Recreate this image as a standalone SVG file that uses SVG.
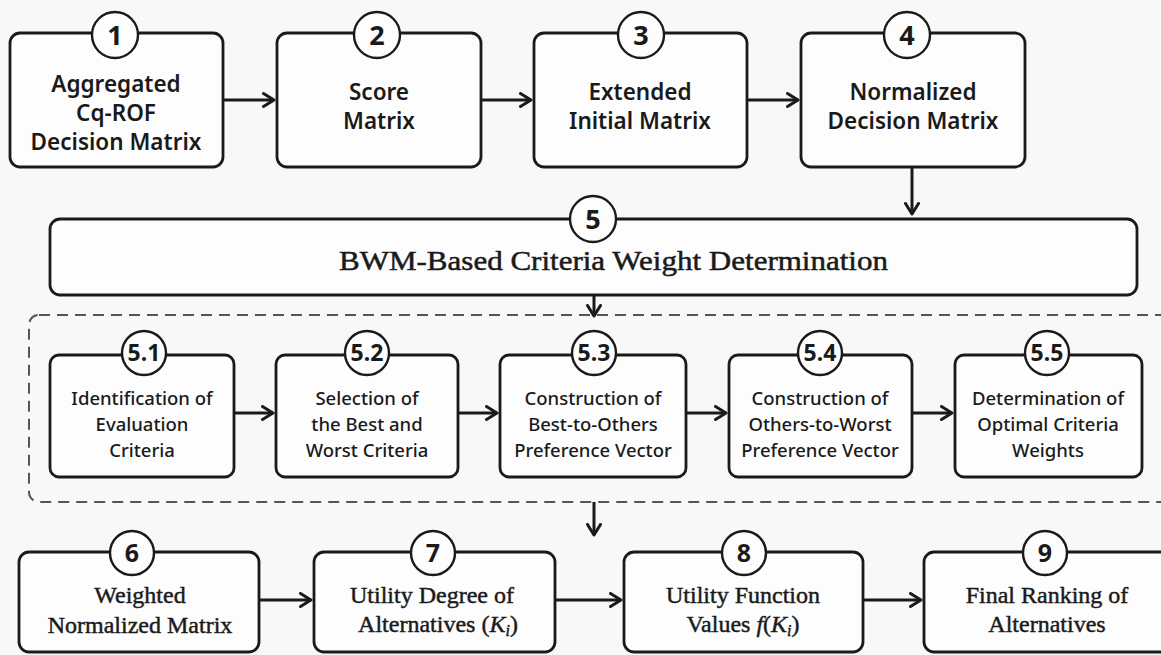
<svg xmlns="http://www.w3.org/2000/svg" width="1161" height="655" viewBox="0 0 1161 655">
<defs>
<marker id="arr" markerUnits="userSpaceOnUse" viewBox="0 0 14 16" markerWidth="14" markerHeight="16" refX="12.5" refY="8" orient="auto">
<path d="M2,1.5 L12.5,8 L2,14.5" fill="none" stroke="#1a1a1a" stroke-width="3" stroke-linecap="round" stroke-linejoin="round"/>
</marker>
<style>
.box{fill:#fdfdfd;stroke:#1a1a1a;stroke-width:2.8}
.circ{fill:#fdfdfd;stroke:#1a1a1a;stroke-width:2.4}
.num{font-family:"Noto Sans",sans-serif;font-weight:700;fill:#1a1a1a;text-anchor:middle}
.t1{font-family:"Noto Sans",sans-serif;font-weight:600;font-size:22.5px;fill:#1a1a1a;text-anchor:middle}
.t2{font-family:"Noto Sans",sans-serif;font-weight:500;font-size:18.5px;fill:#1a1a1a;text-anchor:middle}
.t3{font-family:"Liberation Serif",serif;font-size:24px;fill:#1a1a1a;stroke:#1a1a1a;stroke-width:0.45;text-anchor:middle}
.conn path{fill:none;stroke:#1a1a1a;stroke-width:3;marker-end:url(#arr)}
</style>
</defs>
<rect width="1161" height="655" fill="#f8f8f7"/>

<g id="dashed-group">
<rect x="29" y="315" width="1160" height="187" rx="10" fill="none" stroke="#555" stroke-width="2" stroke-dasharray="11 7"/>
</g>

<g id="node1">
<rect class="box" x="10" y="33" width="213" height="134" rx="10"/>
<circle class="circ" cx="115" cy="35" r="23"/>
<text class="num" x="115" y="44.5" font-size="27">1</text>
<text class="t1" x="116" y="92">Aggregated</text>
<text class="t1" x="116" y="121">Cq-ROF</text>
<text class="t1" x="116" y="150">Decision Matrix</text>
</g>
<g id="node2">
<rect class="box" x="277" y="33" width="204" height="134" rx="10"/>
<circle class="circ" cx="377" cy="35" r="23"/>
<text class="num" x="377" y="44.5" font-size="27">2</text>
<text class="t1" x="379" y="100">Score</text>
<text class="t1" x="379" y="129">Matrix</text>
</g>
<g id="node3">
<rect class="box" x="534" y="33" width="213" height="134" rx="10"/>
<circle class="circ" cx="641" cy="35" r="23"/>
<text class="num" x="641" y="44.5" font-size="27">3</text>
<text class="t1" x="640" y="100">Extended</text>
<text class="t1" x="640" y="129">Initial Matrix</text>
</g>
<g id="node4">
<rect class="box" x="801" y="33" width="224" height="134" rx="10"/>
<circle class="circ" cx="907" cy="35" r="23"/>
<text class="num" x="907" y="44.5" font-size="27">4</text>
<text class="t1" x="913" y="100">Normalized</text>
<text class="t1" x="913" y="129">Decision Matrix</text>
</g>

<g id="node5">
<rect class="box" x="50" y="219" width="1087" height="76" rx="10"/>
<circle class="circ" cx="593" cy="219" r="23"/>
<text class="num" x="593" y="228.5" font-size="27">5</text>
<text x="339" y="270" font-family="Liberation Serif, serif" font-size="28" fill="#1a1a1a" stroke="#1a1a1a" stroke-width="0.5" textLength="549" lengthAdjust="spacingAndGlyphs">BWM-Based Criteria Weight Determination</text>
</g>

<g id="node5-1">
<rect class="box" x="50" y="355" width="184" height="122" rx="9"/>
<circle class="circ" cx="144" cy="353" r="22"/>
<text class="num" x="144" y="361" font-size="23">5.1</text>
<text class="t2" x="142" y="405">Identification of</text>
<text class="t2" x="142" y="431">Evaluation</text>
<text class="t2" x="142" y="457">Criteria</text>
</g>
<g id="node5-2">
<rect class="box" x="276" y="355" width="182" height="122" rx="9"/>
<circle class="circ" cx="367" cy="353" r="22"/>
<text class="num" x="367" y="361" font-size="23">5.2</text>
<text class="t2" x="367" y="405">Selection of</text>
<text class="t2" x="367" y="431">the Best and</text>
<text class="t2" x="367" y="457">Worst Criteria</text>
</g>
<g id="node5-3">
<rect class="box" x="500" y="355" width="186" height="122" rx="9"/>
<circle class="circ" cx="594" cy="353" r="22"/>
<text class="num" x="594" y="361" font-size="23">5.3</text>
<text class="t2" x="593" y="405">Construction of</text>
<text class="t2" x="593" y="431">Best-to-Others</text>
<text class="t2" x="593" y="457">Preference Vector</text>
</g>
<g id="node5-4">
<rect class="box" x="729" y="355" width="183" height="122" rx="9"/>
<circle class="circ" cx="820" cy="353" r="22"/>
<text class="num" x="820" y="361" font-size="23">5.4</text>
<text class="t2" x="820" y="405">Construction of</text>
<text class="t2" x="820" y="431">Others-to-Worst</text>
<text class="t2" x="820" y="457">Preference Vector</text>
</g>
<g id="node5-5">
<rect class="box" x="955" y="355" width="187" height="122" rx="9"/>
<circle class="circ" cx="1047" cy="353" r="22"/>
<text class="num" x="1047" y="361" font-size="23">5.5</text>
<text class="t2" x="1048" y="405">Determination of</text>
<text class="t2" x="1048" y="431">Optimal Criteria</text>
<text class="t2" x="1048" y="457">Weights</text>
</g>

<g id="node6">
<rect class="box" x="19" y="552" width="240" height="100" rx="10"/>
<circle class="circ" cx="132" cy="553" r="22"/>
<text class="num" x="132" y="562" font-size="25">6</text>
<text class="t3" x="140" y="603">Weighted</text>
<text class="t3" x="140" y="633">Normalized Matrix</text>
</g>
<g id="node7">
<rect class="box" x="314" y="552" width="241" height="100" rx="10"/>
<circle class="circ" cx="433" cy="553" r="22"/>
<text class="num" x="433" y="562" font-size="25">7</text>
<text class="t3" x="432" y="603">Utility Degree of</text>
<text class="t3" x="438" y="632">Alternatives (<tspan font-style="italic">K</tspan><tspan font-style="italic" font-size="16" dy="4">i</tspan><tspan dy="-4">)</tspan></text>
</g>
<g id="node8">
<rect class="box" x="624" y="552" width="239" height="100" rx="10"/>
<circle class="circ" cx="744" cy="553" r="22"/>
<text class="num" x="744" y="562" font-size="25">8</text>
<text class="t3" x="743" y="603">Utility Function</text>
<text class="t3" x="743" y="632">Values <tspan font-style="italic">f</tspan>(<tspan font-style="italic">K</tspan><tspan font-style="italic" font-size="16" dy="4">i</tspan><tspan dy="-4">)</tspan></text>
</g>
<g id="node9">
<rect class="box" x="924" y="552" width="250" height="100" rx="10"/>
<circle class="circ" cx="1045" cy="553" r="22"/>
<text class="num" x="1045" y="562" font-size="25">9</text>
<text class="t3" x="1047" y="603">Final Ranking of</text>
<text class="t3" x="1047" y="632">Alternatives</text>
</g>

<g id="connectors" class="conn">
<path d="M223,100 H274"/>
<path d="M481,100 H531"/>
<path d="M747,100 H798"/>
<path d="M912,167 V214"/>
<path d="M594,295 V316"/>
<path d="M234,413 H273"/>
<path d="M458,413 H497"/>
<path d="M686,413 H726"/>
<path d="M912,413 H952"/>
<path d="M594,502 V535"/>
<path d="M259,600 H311"/>
<path d="M555,600 H621"/>
<path d="M863,600 H921"/>
</g>
</svg>
